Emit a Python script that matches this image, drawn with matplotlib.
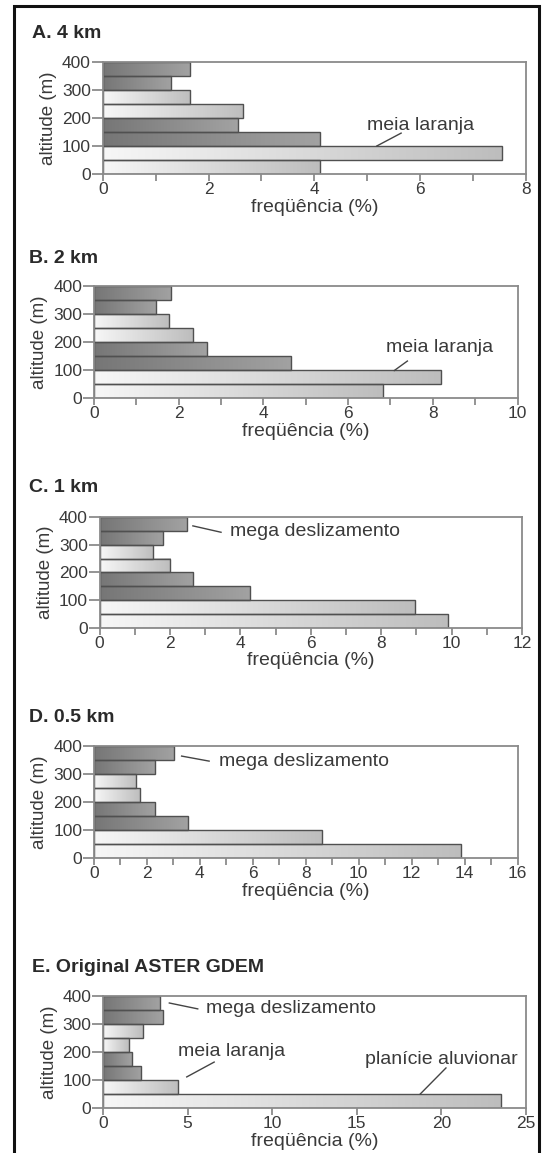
import numpy as np
import matplotlib
matplotlib.use("Agg")
import matplotlib.pyplot as plt
from matplotlib.colors import LinearSegmentedColormap
from matplotlib.patches import Rectangle

plt.rcParams['font.family'] = ['Liberation Sans', 'DejaVu Sans']

# altitude bins (m), lower edge of each class
alt_bins = [0, 50, 100, 150, 200, 250, 300, 350]
bin_h = 50
# tone of each bin, bottom to top
tones = ["light", "light", "dark", "dark", "light", "light", "dark", "dark"]

titles = ["A. 4 km", "B. 2 km", "C. 1 km", "D. 0.5 km", "E. Original ASTER GDEM"]
xmax = [8, 10, 12, 16, 25]
xstep = [1, 1, 1, 1, 5]
xlabel_step = [2, 2, 2, 2, 5]

freq_4km = [4.1, 7.55, 4.1, 2.55, 2.65, 1.65, 1.3, 1.65]
freq_2km = [6.82, 8.19, 4.66, 2.66, 2.33, 1.76, 1.47, 1.82]
freq_1km = [9.89, 8.96, 4.26, 2.65, 2.0, 1.53, 1.79, 2.47]
freq_05km = [13.88, 8.62, 3.54, 2.31, 1.75, 1.59, 2.29, 3.04]
freq_aster = [23.53, 4.45, 2.25, 1.70, 1.51, 2.35, 3.53, 3.35]
series = [freq_4km, freq_2km, freq_1km, freq_05km, freq_aster]

# annotations: (text, text x, text y, line start, line end)
notes = [
    [("meia laranja", 5.0, 175, (5.64, 146), (5.18, 100))],
    [("meia laranja", 6.9, 179, (7.4, 132), (7.09, 98))],
    [("mega deslizamento", 3.7, 346, (3.45, 345), (2.65, 368))],
    [("mega deslizamento", 4.72, 343, (4.35, 346), (3.31, 364))],
    [("mega deslizamento", 6.1, 357, (5.6, 354), (3.92, 375)),
     ("meia laranja", 4.43, 200, (6.57, 164), (4.95, 111)),
     ("planície aluvionar", 15.5, 175, (20.27, 143), (18.75, 50))],
]

W, H = 542, 1153
# axes boxes in pixels: left, top, right, bottom
boxes = [(102.7, 62, 526, 174), (94, 286, 517.5, 398), (99.6, 517, 522, 628),
         (94, 746, 517.5, 858), (103, 996, 526, 1108)]
title_pos = [(32, 33), (29, 258), (29, 488), (29, 718), (32, 968)]

cmaps = {
    "light": LinearSegmentedColormap.from_list("lt", ["#f7f7f7", "#bdbdbd"]),
    "dark": LinearSegmentedColormap.from_list("dk", ["#767676", "#a2a2a2"]),
}
grad = np.linspace(0, 1, 256).reshape(1, -1)

txt = "#3a3a3a"
fig = plt.figure(figsize=(W / 100, H / 100), dpi=100)
fig.patches.append(Rectangle((14 / W, -0.01), (539 - 14) / W, 1 - 6 / H + 0.01,
                             transform=fig.transFigure, fill=False,
                             edgecolor="#111111", linewidth=2.2))

for i in range(5):
    l, t, r, b = boxes[i]
    aw, ah = r - l, b - t
    ax = fig.add_axes([l / W, 1 - b / H, aw / W, ah / H])
    vals = series[i]
    for y0, v, tone in zip(alt_bins, vals, tones):
        ax.imshow(grad, extent=[0, v, y0, y0 + bin_h], aspect="auto",
                  cmap=cmaps[tone], interpolation="bilinear", zorder=1)
    ax.barh([y + bin_h / 2 for y in alt_bins], vals, height=bin_h,
            facecolor="none", edgecolor="#505050", linewidth=1.0, zorder=2)
    ax.set_xlim(0, xmax[i])
    ax.set_ylim(0, 400)
    xt = np.arange(0, xmax[i] + 0.01, xstep[i])
    ax.set_xticks(xt)
    ax.set_xticklabels([str(int(x)) if x % xlabel_step[i] == 0 else "" for x in xt])
    ax.set_yticks([0, 100, 200, 300, 400])
    for s in ax.spines.values():
        s.set_color("#8a8a8a")
        s.set_linewidth(1.3)
    ax.tick_params(axis="both", direction="out", width=1.1,
                   color="#777777", labelcolor=txt, labelsize=12.5)
    ax.tick_params(axis="x", length=5, pad=1)
    ax.tick_params(axis="y", length=8, pad=0.5)
    ax.set_xlabel("freqüência (%)", fontsize=14, color=txt, va="center")
    ax.xaxis.set_label_coords(0.5, -33 / ah)
    ax.set_ylabel("altitude (m)", fontsize=13.5, color=txt, va="center")
    ax.yaxis.set_label_coords(-54 / aw, 0.5)
    for label, tx, ty, p0, p1 in notes[i]:
        ax.text(tx, ty, label, fontsize=14, color=txt, va="center", ha="left", zorder=4)
        ax.plot([p0[0], p1[0]], [p0[1], p1[1]], color="#444444", lw=1.0,
                zorder=4, clip_on=False)
    fig.text(title_pos[i][0] / W, 1 - title_pos[i][1] / H, titles[i],
             fontsize=14, fontweight="bold", color="#2a2a2a", va="center", ha="left")

fig.savefig("out.png", dpi=100, facecolor="white")
plt.close(fig)
